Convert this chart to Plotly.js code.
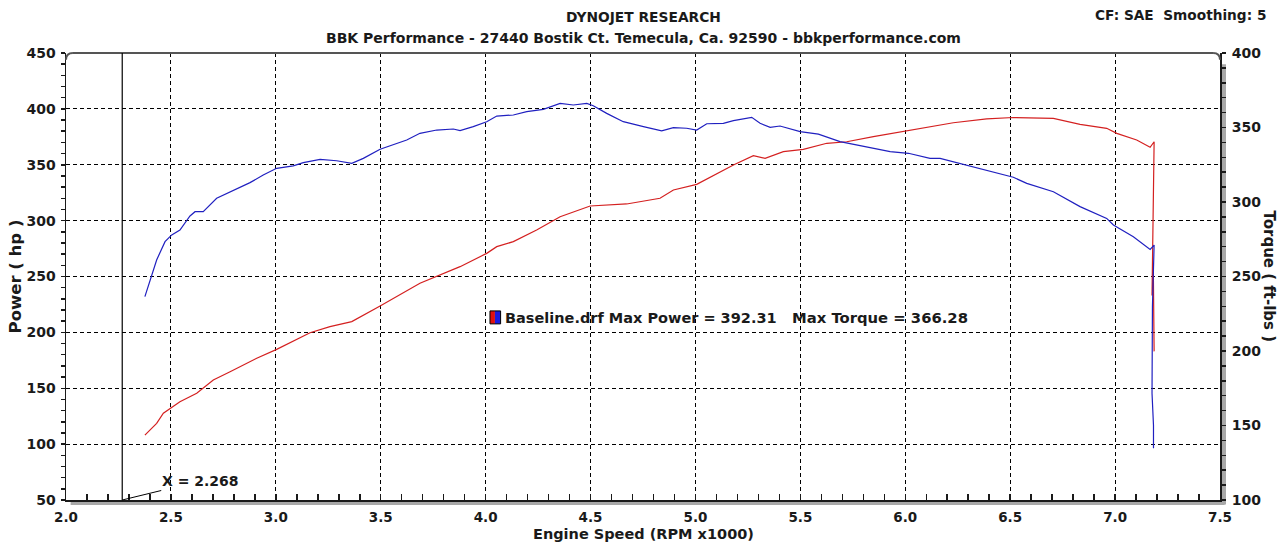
<!DOCTYPE html>
<html>
<head>
<meta charset="utf-8">
<script src="https://cdn.plot.ly/plotly-3.0.1.min.js"></script>
<style>
html,body{margin:0;padding:0;background:#fff;}
#chart{width:1288px;height:543px;}
</style>
</head>
<body>
<div id="chart"></div>
<script>
// ---- data ----
const powerRpm = [2.376,2.432,2.464,2.496,2.543,2.623,2.702,2.782,2.909,3.004,3.163,3.258,3.362,3.497,3.687,3.878,4.005,4.053,4.132,4.243,4.355,4.498,4.577,4.672,4.831,4.895,5.006,5.101,5.181,5.276,5.332,5.419,5.514,5.626,5.721,5.848,6.007,6.134,6.229,6.388,6.515,6.706,6.833,6.960,7.008,7.103,7.167,7.186,7.180,7.176,7.182,7.186];
const powerHp  = [108,118.6,127.6,132,138,145.5,157.4,164.8,176.8,184.8,199.7,205.1,209.6,223.6,243.9,258.8,270.7,276.7,281.2,291.6,303.5,313.1,314,314.9,320,327.4,332.5,342.3,349.8,358.1,355.7,361.7,363.8,369.2,370.6,375.1,380.5,384.7,387.6,391,392.3,391.5,386.2,382.6,378.1,372.1,365.6,370.6,300,233,260,183];

const torqueRpm = [2.376,2.408,2.432,2.472,2.504,2.543,2.591,2.615,2.654,2.718,2.782,2.877,2.940,3.004,3.083,3.131,3.211,3.290,3.362,3.417,3.497,3.624,3.687,3.767,3.846,3.878,3.941,4.005,4.053,4.132,4.196,4.275,4.355,4.418,4.482,4.513,4.577,4.656,4.752,4.839,4.895,4.958,5.006,5.054,5.133,5.181,5.268,5.308,5.356,5.403,5.499,5.586,5.689,5.816,5.928,6.015,6.118,6.166,6.293,6.357,6.452,6.515,6.579,6.706,6.833,6.960,6.992,7.087,7.167,7.186,7.178,7.176,7.183,7.183];
const torqueFtLb = [236.5,249.9,261.1,273.4,277.9,281.2,290.6,293.5,293.5,302.5,306.9,313,318.1,322.6,324.2,326.4,328.6,327.7,326,329.3,335.4,341.6,346.1,348.3,349,347.9,350.6,353.9,357.7,358.4,360.6,362.2,366.2,365.1,366.2,364.6,359.5,353.9,350.6,347.7,349.9,349.5,348.3,352.5,352.8,354.6,356.8,352.8,350.1,351,347.2,345.6,340.5,337.1,333.8,332.7,329.3,329.3,324.8,322.6,319.2,316.6,312.5,306.9,296.9,289,284.6,276.7,268.2,271.1,230,171.6,150,134.7];

const xRange = [2.0, 7.5];
const powerRange = [50, 450];
const torqueRange = [100, 400];
const cursorX = 2.268;
const runName = "Baseline.drf";
const maxPower = 392.31;
const maxTorque = 366.28;
const titleLine1 = "DYNOJET RESEARCH";
const titleLine2 = "BBK Performance - 27440 Bostik Ct. Temecula, Ca. 92590 - bbkperformance.com";
const cornerNote = "CF: SAE  Smoothing: 5";
const xTitle = "Engine Speed (RPM x1000)";
const yTitle = "Power ( hp )";
const y2Title = "Torque ( ft-lbs )";

// ---- chart ----
const FONT = "DejaVu Sans, Verdana, sans-serif";
const bold = (s, c) => ({family: FONT, size: s, color: c || "#1a1a1a", weight: "bold"});

const traces = [
  {x: powerRpm, y: powerHp, type: "scatter", mode: "lines", name: "Power",
   line: {color: "#d42020", width: 1.2}, yaxis: "y", hoverinfo: "x+y"},
  {x: torqueRpm, y: torqueFtLb, type: "scatter", mode: "lines", name: "Torque",
   line: {color: "#2020c0", width: 1.2}, yaxis: "y2", hoverinfo: "x+y"}
];

const gridStyle = {showgrid: true, gridcolor: "#000", gridwidth: 1, griddash: "4px,3px"};

const layout = {
  width: 1288, height: 543, autosize: false,
  margin: {l: 66, r: 68, t: 53, b: 43, pad: 0},
  paper_bgcolor: "#fff", plot_bgcolor: "#fff",
  showlegend: false,
  xaxis: Object.assign({
    range: xRange, dtick: 0.5, tick0: 2, tickformat: ".1f",
    showline: true, linecolor: "#1a1a1a", linewidth: 2,
    ticks: "inside", ticklen: 6, tickwidth: 1.5, tickcolor: "#1a1a1a",
    minor: {dtick: 0.1, ticks: "inside", ticklen: 6, tickwidth: 1.5, tickcolor: "#1a1a1a", showgrid: false},
    tickfont: bold(13.5), ticklabelstandoff: 4,
    zeroline: false, fixedrange: true
  }, gridStyle),
  yaxis: Object.assign({
    range: powerRange, dtick: 50, tick0: 50,
    showline: true, linecolor: "#1a1a1a", linewidth: 1.5,
    ticks: "outside", ticklen: 4, tickwidth: 1.5, tickcolor: "#1a1a1a",
    minor: {dtick: 10, ticks: "outside", ticklen: 4, tickwidth: 1.5, tickcolor: "#1a1a1a", showgrid: false},
    tickfont: bold(14), ticklabelstandoff: 2,
    title: {text: yTitle, font: bold(16.5), standoff: 0},
    zeroline: false, fixedrange: true
  }, gridStyle),
  yaxis2: {
    range: torqueRange, dtick: 50, tick0: 100, overlaying: "y", side: "right",
    showgrid: false, showline: true, linecolor: "#1a1a1a", linewidth: 2,
    ticks: "outside", ticklen: 4, tickwidth: 1.5, tickcolor: "#1a1a1a",
    minor: {dtick: 10, ticks: "outside", ticklen: 4, tickwidth: 1.5, tickcolor: "#1a1a1a", showgrid: false},
    tickfont: bold(14), ticklabelstandoff: 3,
    zeroline: false, fixedrange: true
  },
  yaxis3: {
    range: powerRange, dtick: 50, tick0: 50, overlaying: "y", side: "left",
    showgrid: false, showline: false, showticklabels: false,
    ticks: "inside", ticklen: 3, tickwidth: 1.5, tickcolor: "#1a1a1a",
    minor: {dtick: 10, ticks: "inside", ticklen: 3, tickwidth: 1.5, tickcolor: "#1a1a1a", showgrid: false},
    zeroline: false, fixedrange: true
  },
  yaxis4: {
    range: torqueRange, dtick: 50, tick0: 100, overlaying: "y", side: "right",
    showgrid: false, showline: false, showticklabels: false,
    ticks: "inside", ticklen: 3, tickwidth: 1.5, tickcolor: "#1a1a1a",
    minor: {dtick: 10, ticks: "inside", ticklen: 3, tickwidth: 1.5, tickcolor: "#1a1a1a", showgrid: false},
    zeroline: false, fixedrange: true
  },
  shapes: [
    // top frame line
    {type: "line", xref: "paper", yref: "paper", x0: 0.006, x1: 0.994, y0: 1, y1: 1,
     line: {color: "#555", width: 2}},
    // rounded top corners
    {type: "path", xref: "paper", yref: "paper",
     path: "M 0,0.985 Q 0,1 0.006,1", line: {color: "#555", width: 2}},
    {type: "path", xref: "paper", yref: "paper",
     path: "M 0.994,1 Q 1,1 1,0.985", line: {color: "#555", width: 2}},
    // bottom shadow
    {type: "rect", xref: "paper", yref: "paper", ysizemode: "pixel", yanchor: 0,
     x0: 0.004, x1: 1.004, y0: -1, y1: -5, fillcolor: "#a8a8a8", line: {width: 0}, layer: "below"},
    // right shadow
    {type: "rect", xref: "paper", yref: "paper", xsizemode: "pixel", xanchor: 1,
     x0: 1, x1: 6, y0: -0.01, y1: 0.975, fillcolor: "#a8a8a8", line: {width: 0}, layer: "below"},
    // cursor line
    {type: "line", xref: "x", yref: "paper", x0: cursorX, x1: cursorX, y0: 0, y1: 1,
     line: {color: "#000", width: 1.2}},
    // legend swatch (red / blue)
    {type: "rect", xref: "paper", yref: "paper", x0: 0.3674, x1: 0.3717, y0: 0.394, y1: 0.423,
     fillcolor: "#e01010", line: {width: 0}},
    {type: "rect", xref: "paper", yref: "paper", x0: 0.3717, x1: 0.3766, y0: 0.394, y1: 0.423,
     fillcolor: "#1a1ae0", line: {width: 0}},
    {type: "rect", xref: "paper", yref: "paper", x0: 0.3674, x1: 0.3766, y0: 0.394, y1: 0.423,
     fillcolor: "rgba(0,0,0,0)", line: {color: "#000", width: 1}}
  ],
  annotations: [
    {xref: "paper", yref: "paper", x: 0.5, y: 1.0805, xanchor: "center", yanchor: "middle",
     text: titleLine1, showarrow: false, font: bold(13.8)},
    {xref: "paper", yref: "paper", x: 0.5, y: 1.0336, xanchor: "center", yanchor: "middle",
     text: titleLine2, showarrow: false, font: bold(14)},
    {xref: "paper", yref: "paper", x: 1.0416, y: 1.085, xanchor: "right", yanchor: "middle",
     text: cornerNote, showarrow: false, font: bold(13.7)},
    {xref: "paper", yref: "paper", x: 1.0425, y: 0.5, xanchor: "center", yanchor: "middle",
     text: y2Title, textangle: 90, showarrow: false, font: bold(15)},
    {xref: "paper", yref: "paper", x: 0.5, y: -0.0760, xanchor: "center", yanchor: "middle",
     text: xTitle, showarrow: false, font: bold(14.5)},
    {xref: "paper", yref: "paper", x: 0.3787, y: 0.4072, xanchor: "left", yanchor: "middle",
     text: runName + " Max Power = " + maxPower.toFixed(2), showarrow: false, font: bold(14.5)},
    {xref: "paper", yref: "paper", x: 0.6274, y: 0.4072, xanchor: "left", yanchor: "middle",
     text: "Max Torque = " + maxTorque.toFixed(2), showarrow: false, font: bold(14.8)},
    {xref: "x", yref: "y", x: cursorX, y: powerRange[0], text: "X = " + cursorX.toFixed(3),
     showarrow: true, arrowhead: 0, arrowwidth: 1, arrowcolor: "#000", ax: 78, ay: -19,
     font: bold(14)}
  ]
};

Plotly.newPlot("chart", traces, layout, {displayModeBar: false, staticPlot: true});
</script>
</body>
</html>
